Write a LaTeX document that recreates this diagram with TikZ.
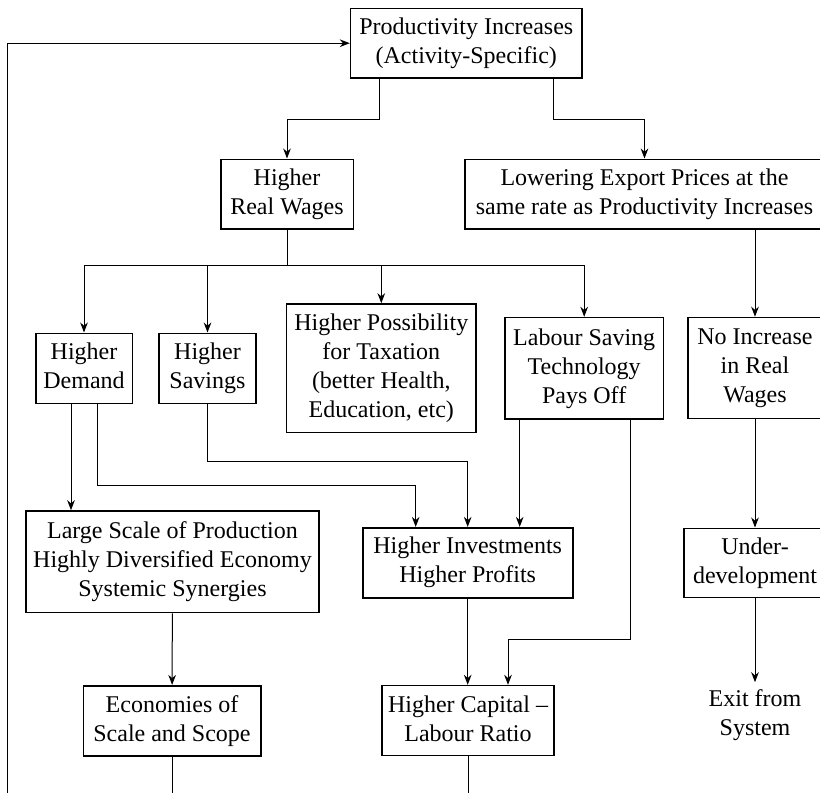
\documentclass[tikz,border=0pt]{standalone}
\usepackage{fontspec}
\setmainfont{Liberation Serif}
\usetikzlibrary{arrows.meta}
\newcommand\boxstrut{\rule[-2.2pt]{0pt}{12pt}}

\begin{document}
\begin{tikzpicture}[x=0.5pt, y=-0.5pt,
  font=\fontsize{12}{14.5}\selectfont,
  >={Stealth[length=5pt,width=3.8pt,inset=1.6pt]},
  line width=0.5pt,
  box/.style={draw, line width=0.8pt, align=center, inner sep=2pt,
    execute at begin node=\boxstrut, execute at end node=\boxstrut}]
  \useasboundingbox (0,0) rectangle (820,793);
  \clip (0,0) rectangle (820,793);

  \node (prod) [box, minimum width=115.7pt, minimum height=34.8pt] at (466.3,43.2)
    {Productivity Increases\\(Activity-Specific)};
  \node (wages) [box, minimum width=66.3pt, minimum height=34.7pt] at (287,194)
    {Higher\\Real Wages};
  \node (lower) [box, minimum width=179.5pt, minimum height=34.7pt] at (644.5,194)
    {Lowering Export Prices at the\\same rate as Productivity Increases};
  \node (demand) [box, minimum width=48.3pt, minimum height=35pt] at (84,368.3)
    {Higher\\Demand};
  \node (savings) [box, minimum width=48.5pt, minimum height=35pt] at (207.5,368.3)
    {Higher\\Savings};
  \node (tax) [box, minimum width=94.7pt, minimum height=64.3pt] at (381.3,368.3)
    {Higher Possibility\\for Taxation\\(better Health,\\Education, etc)};
  \node (labour) [box, minimum width=79.2pt, minimum height=50.7pt] at (584.2,368.3)
    {Labour Saving\\Technology\\Pays Off};
  \node (noinc) [box, minimum width=67.2pt, minimum height=50.5pt] at (755,368)
    {No Increase\\in Real\\Wages};
  \node (large) [box, minimum width=146.5pt, minimum height=50.8pt] at (172.5,561.8)
    {Large Scale of Production\\Highly Diversified Economy\\Systemic Synergies};
  \node (invest) [box, minimum width=105pt, minimum height=35pt] at (467.7,562.7)
    {Higher Investments\\Higher Profits};
  \node (under) [box, minimum width=71pt, minimum height=34.5pt] at (755,562.8)
    {Under-\\development};
  \node (econ) [box, minimum width=88.7pt, minimum height=35pt] at (172,720.7)
    {Economies of\\Scale and Scope};
  \node (capital) [box, minimum width=86pt, minimum height=35pt] at (468,720.6)
    {Higher Capital --\\Labour Ratio};
  \node (exit) [box, draw=none, minimum height=32.5pt] at (755,715.5)
    {Exit from\\System};

  \coordinate (base) at (0,793);
  \coordinate (loop) at (7.3,793);
  \coordinate (in1) at ([xshift=-26pt]invest.north);
  \coordinate (in3) at ([xshift=26pt]invest.north);
  \coordinate (d1) at ([xshift=-6.5pt]demand.south);

  \draw[->] (loop) |- (prod.west);
  \draw[->] ([xshift=15pt]prod.south west) -- ++(0,41) -| (wages.north);
  \draw[->] ([xshift=-14.5pt]prod.south east) -- ++(0,41) -| (lower.north);
  \draw[->] (lower.south -| noinc) -- (noinc.north);
  \draw[->] (wages.south) -- ++(0,36.3) -| (demand.north);
  \draw[->] (wages.south) -- ++(0,36.3) -| (savings.north);
  \draw[->] (wages.south) -- ++(0,36.3) -| (tax.north);
  \draw[->] (wages.south) -- ++(0,36.3) -| (labour.north);
  \draw[->] (noinc) -- (under);
  \draw[->] (under) -- (exit);
  \draw[->] (d1) -- (d1 |- large.north);
  \draw[->] ([xshift=6.5pt]demand.south) -- ++(0,81) -| (in1);
  \draw[->] (savings.south) -- ++(0,57.7) -| (invest.north);
  \draw[->] (labour.south -| in3) -- (in3);
  \draw[->] ([xshift=23.25pt]labour.south) -- ++(0,219.3) -| ([xshift=20pt]capital.north);
  \draw[->] (invest.south) -- (invest.south |- capital.north);
  \draw[->] (large) -- (econ);
  \draw (econ.south) -- (econ.south |- base);
  \draw (capital.south) -- (capital.south |- base);
\end{tikzpicture}
\end{document}
